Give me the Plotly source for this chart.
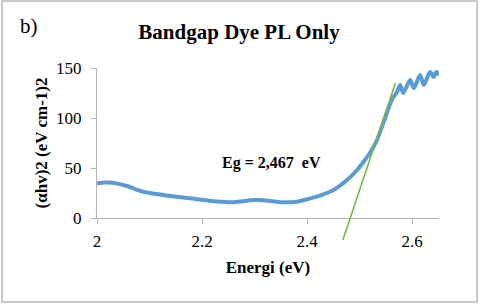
import plotly.graph_objects as go

# Blue PL curve: (alpha h v)^2 vs energy
energy = [2.000, 2.015, 2.030, 2.057, 2.088, 2.126, 2.177, 2.228, 2.260, 2.298,
          2.317, 2.349, 2.380, 2.400, 2.418, 2.450, 2.476, 2.495, 2.510, 2.523,
          2.533, 2.545, 2.561, 2.571, 2.577, 2.583, 2.596, 2.603, 2.615, 2.622,
          2.634, 2.641, 2.646, 2.652]
ahv2 = [34.5, 35.5, 35.3, 32.0, 26.3, 23.0, 19.7, 16.5, 15.8, 18.0,
        17.8, 15.8, 16.3, 18.7, 21.3, 28.0, 38.0, 48.0, 58.0, 68.0,
        78.0, 95.0, 118.0, 126.0, 133.0, 125.0, 138.0, 130.0, 143.0, 133.0,
        146.0, 141.0, 146.0, 143.0]

# Green tangent (bandgap extrapolation) line endpoints
fit_x = [2.468, 2.568]
fit_y = [-22, 135]

x_ticks = [2, 2.2, 2.4, 2.6]
x_ticktext = ["2", "2.2", "2.4", "2.6"]
y_ticks = [0, 50, 100, 150]

SERIF = "Liberation Serif, Times New Roman, serif"
AXIS_GREY = "#b4b4b4"

fig = go.Figure()
fig.add_trace(go.Scatter(x=energy, y=ahv2, mode="lines", line=dict(color="#5B9BD5", width=4, shape="spline", smoothing=0.8),
                         xaxis="x", yaxis="y", showlegend=False, hoverinfo="skip"))
fig.add_trace(go.Scatter(x=fit_x, y=fit_y, mode="lines", line=dict(color="#76B943", width=1.6),
                         xaxis="x2", yaxis="y2", showlegend=False, hoverinfo="skip"))

fig.update_layout(
    width=480, height=304,
    margin=dict(l=97, r=41, t=68, b=56),
    paper_bgcolor="white", plot_bgcolor="rgba(0,0,0,0)",
    font=dict(family=SERIF, color="black"),
    title=dict(text="<b>Bandgap Dye PL Only</b>", x=239/480, xref="container", xanchor="center",
               y=1-32/304, yref="container", yanchor="middle", font=dict(family=SERIF, size=21, color="black")),
    xaxis=dict(domain=[0, 1], range=[2, 2.651], tickvals=x_ticks, ticktext=x_ticktext, anchor="y",
               showline=True, linecolor=AXIS_GREY, linewidth=1, ticks="outside", ticklen=5, tickcolor=AXIS_GREY,
               showgrid=False, zeroline=False, tickfont=dict(family=SERIF, size=17), ticklabelstandoff=3,
               title=dict(text="<b>Energi (eV)</b>", font=dict(family=SERIF, size=17), standoff=10)),
    yaxis=dict(domain=[30/180, 1], range=[0, 150], tickvals=y_ticks, anchor="x",
               showline=True, linecolor=AXIS_GREY, linewidth=1, ticks="outside", ticklen=5, tickcolor=AXIS_GREY,
               showgrid=False, zeroline=False, tickfont=dict(family=SERIF, size=17), ticklabelstandoff=6,
               title=dict(text="<b>(αhv)2 (eV cm-1)2</b>", font=dict(family=SERIF, size=17), standoff=4)),
    xaxis2=dict(domain=[0, 1], range=[2, 2.651], visible=False, anchor="y2"),
    yaxis2=dict(domain=[0, 1], range=[-30, 150], visible=False, anchor="x2"),
    annotations=[
        dict(text="<b>Eg = 2,467\u00a0 eV</b>", x=2.333, y=55, xref="x", yref="y", showarrow=False,
             xanchor="center", yanchor="middle", font=dict(family=SERIF, size=16, color="black")),
        dict(text="b)", x=(18-97)/342, y=(248-26)/180, xref="paper", yref="paper", showarrow=False,
             xanchor="left", yanchor="middle", font=dict(family=SERIF, size=21, color="black")),
    ],
    shapes=[dict(type="rect", xref="paper", yref="paper", x0=(2-97)/342, x1=(477-97)/342,
                 y0=(248-302)/180, y1=(248-1)/180, line=dict(color="#c8c8c8", width=2), fillcolor="rgba(0,0,0,0)")],
)

fig.write_html("out.html", config={"displayModeBar": False},
               post_script="document.body.style.margin='0';document.body.style.overflow='hidden';")
